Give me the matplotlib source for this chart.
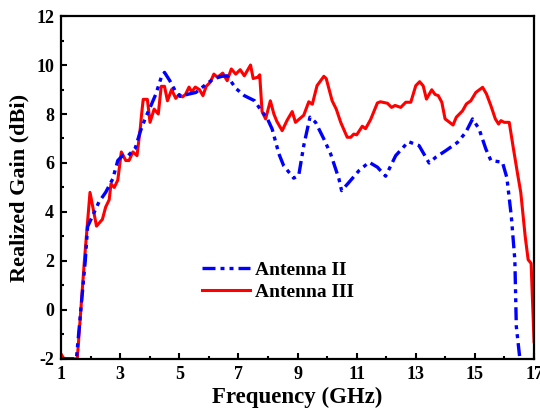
import numpy as np
import matplotlib.pyplot as plt
from matplotlib.ticker import MultipleLocator

# Antenna III (solid red)
f3 = [1.0, 1.1, 1.55, 1.79, 1.98, 2.2, 2.4, 2.51, 2.63, 2.69, 2.8, 2.92, 3.04, 3.19, 3.3,
      3.43, 3.57, 3.68, 3.72, 3.78, 3.92, 4.01, 4.15, 4.29, 4.39, 4.5, 4.6, 4.74, 4.88, 5.0,
      5.11, 5.21, 5.33, 5.42, 5.54, 5.68, 5.8, 5.91, 6.05, 6.17, 6.29, 6.47, 6.62, 6.76, 6.91,
      7.06, 7.2, 7.41, 7.5, 7.65, 7.72, 7.8, 7.92, 8.08, 8.2, 8.3, 8.48, 8.65, 8.82, 8.93,
      9.21, 9.38, 9.5, 9.66, 9.89, 9.97, 10.17, 10.31, 10.46, 10.68, 10.8, 10.9, 11.0, 11.19,
      11.3, 11.47, 11.7, 11.8, 12.04, 12.18, 12.3, 12.49, 12.66, 12.83, 13.0, 13.13, 13.25,
      13.36, 13.54, 13.65, 13.76, 13.88, 13.99, 14.1, 14.26, 14.37, 14.58, 14.71, 14.86,
      15.03, 15.26, 15.39, 15.54, 15.69, 15.8, 15.88, 15.99, 16.16, 16.3, 16.45, 16.55,
      16.7, 16.8, 16.9, 17.0]
g3 = [-1.8, -2.0, -2.0, 2.0, 4.8, 3.42, 3.7, 4.2, 4.5, 5.15, 5.0, 5.3, 6.45, 6.1, 6.1,
      6.45, 6.3, 7.4, 7.93, 8.6, 8.6, 7.66, 8.2, 8.0, 9.13, 9.13, 8.54, 9.0, 8.64, 8.8,
      8.7, 8.8, 9.1, 8.9, 9.1, 9.0, 8.75, 9.13, 9.3, 9.63, 9.5, 9.67, 9.36, 9.84, 9.63,
      9.81, 9.56, 10.0, 9.45, 9.5, 9.6, 8.1, 7.8, 8.54, 8.0, 7.7, 7.32, 7.75, 8.1, 7.66,
      7.95, 8.5, 8.4, 9.16, 9.54, 9.45, 8.54, 8.2, 7.66, 7.05, 7.05, 7.18, 7.15, 7.5,
      7.4, 7.77, 8.45, 8.5, 8.44, 8.27, 8.35, 8.27, 8.48, 8.48, 9.16, 9.32, 9.15,
      8.61, 8.99, 8.8, 8.75, 8.48, 7.8, 7.7, 7.55, 7.87, 8.13, 8.41, 8.54,
      8.88, 9.09, 8.82, 8.34, 7.8, 7.59, 7.73, 7.66, 7.66, 6.6, 5.5, 4.8,
      3.0, 2.05, 1.9, -1.3]

# Antenna II (blue dash-dot-dot)
f2 = [1.0, 1.52, 1.82, 1.9, 2.04, 2.28, 2.51, 2.75, 2.92, 3.08, 3.27, 3.51, 3.68, 3.86,
      4.04, 4.21, 4.39, 4.5, 4.68, 4.86, 5.03, 5.27, 5.56, 5.85, 6.15, 6.44, 6.62, 6.91,
      7.2, 7.55, 7.79, 7.96, 8.14, 8.37, 8.53, 8.87, 9.04, 9.21, 9.42, 9.61, 9.89, 10.12,
      10.4, 10.49, 10.74, 11.08, 11.42, 11.7, 11.98, 12.32, 12.75, 13.11, 13.45, 13.67,
      14.01, 14.41, 14.69, 14.92, 15.14, 15.37, 15.54, 15.93, 16.08, 16.23, 16.35, 16.4,
      16.52]
g2 = [-2.0, -2.0, 2.0, 3.4, 3.77, 4.4, 4.8, 5.35, 6.1, 6.3, 6.3, 6.6, 7.28, 7.86,
      8.34, 8.82, 9.5, 9.7, 9.36, 8.95, 8.72, 8.8, 8.88, 9.16, 9.43, 9.54, 9.56, 9.05,
      8.75, 8.54, 8.1, 7.86, 7.39, 6.37, 5.89, 5.38, 5.49, 6.71, 7.87, 7.66, 6.98, 6.37,
      5.35, 4.87, 5.21, 5.69, 6.03, 5.83, 5.46, 6.3, 6.87, 6.71, 6.0, 6.23,
      6.5, 6.84, 7.25, 7.8, 7.39, 6.57, 6.1, 6.03, 5.4, 3.83, 2.04, -0.68,
      -2.0]

xticks = [1, 3, 5, 7, 9, 11, 13, 15, 17]
yticks = [-2, 0, 2, 4, 6, 8, 10, 12]

plt.rcParams['font.family'] = 'Liberation Serif'
plt.rcParams['font.weight'] = 'bold'
plt.rcParams['axes.unicode_minus'] = False

fig = plt.figure(figsize=(5.4, 4.12), dpi=100)
ax = fig.add_axes([0.113, 0.129, 0.876, 0.832])

l3, = ax.plot(f3, g3, color='#ff0000', lw=2.2, label='Antenna III')
l2, = ax.plot(f2, g2, color='#0000ff', lw=2.4,
              dashes=(3.9, 1.5, 1.2, 1.5, 1.2, 1.5), label='Antenna II')

ax.set_xlim(1, 17)
ax.set_ylim(-2, 12)
ax.set_xticks(xticks)
ax.set_yticks(yticks)
ax.xaxis.set_minor_locator(MultipleLocator(1))
ax.yaxis.set_minor_locator(MultipleLocator(1))
ax.tick_params(which='both', direction='in', width=1.5, labelsize=13)
ax.tick_params(which='major', length=4, pad=5)
ax.tick_params(which='minor', length=2.5)
for s in ax.spines.values():
    s.set_linewidth(1.6)

ax.set_xlabel('Frequency (GHz)', fontsize=16.5, fontweight='bold', labelpad=3)
ax.set_ylabel('Realized Gain (dBi)', fontsize=16, fontweight='bold', labelpad=5)

ax.legend([l2, l3], ['Antenna II', 'Antenna III'], loc='upper left',
          bbox_to_anchor=(0.27, 0.325), frameon=False, fontsize=14,
          handlelength=2.45, handletextpad=0.25, labelspacing=0.25,
          borderpad=0.2)

fig.savefig('out.png', dpi=100)
